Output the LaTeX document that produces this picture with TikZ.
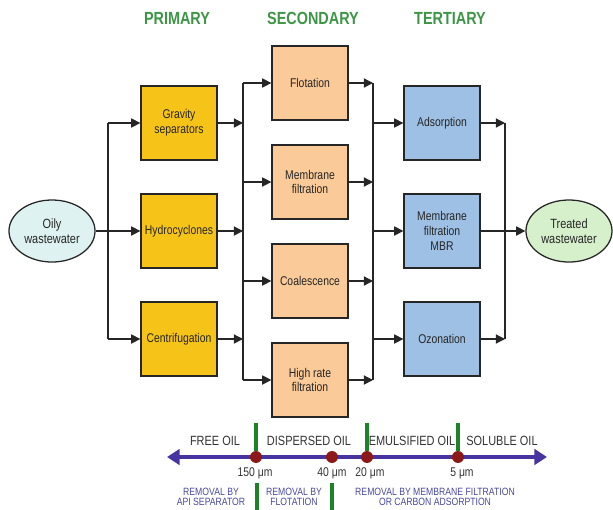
\documentclass[tikz,border=0pt]{standalone}
\usepackage{fontspec}
\setmainfont{Liberation Sans}[FakeStretch=0.82]
\usetikzlibrary{positioning, calc, arrows.meta, shapes.geometric}

\definecolor{titlegreen}{RGB}{60,150,70}
\definecolor{primfill}{RGB}{246,196,24}
\definecolor{secfill}{RGB}{250,202,152}
\definecolor{terfill}{RGB}{157,192,228}
\definecolor{infill}{RGB}{222,242,242}
\definecolor{outfill}{RGB}{214,240,204}
\definecolor{axisblue}{RGB}{72,52,160}
\definecolor{dotred}{RGB}{140,24,24}
\definecolor{tickgreen}{RGB}{30,130,40}
\definecolor{removal}{RGB}{72,72,160}

\tikzset{
  box/.style={draw=black!85, line width=0.9pt, minimum width=1.9cm, minimum height=1.85cm,
    align=center, inner sep=1pt, text=black!85, font=\fontsize{9}{10.5}\selectfont},
  blob/.style={ellipse, draw=black!85, line width=0.9pt, minimum width=2.15cm, minimum height=1.55cm,
    align=center, inner sep=0pt, text=black!85, font=\fontsize{9.5}{11}\selectfont},
  stage/.style={text=titlegreen, font=\bfseries\fontsize{12.5}{14}\selectfont},
  bus/.style={line width=0.9pt, draw=black!85},
  arr/.style={-{Triangle[length=6.5pt,width=6.5pt]}},
  dot/.style={circle, fill=dotred, minimum size=8.5pt, inner sep=0pt},
  scalelbl/.style={text=black!80, font=\fontsize{9.5}{11}\selectfont},
  sizelbl/.style={text=black!80, font=\fontsize{9}{10}\selectfont},
  removal/.style={text=removal, align=center, font=\fontsize{7.5}{7.6}\selectfont},
  gtick/.style={draw=tickgreen, line width=2.2pt},
}

\begin{document}
\begin{tikzpicture}[x=0.025cm, y=-0.025cm]
\useasboundingbox (0,0) rectangle (613,509);
\clip (0,0) rectangle (613,509);

% stage titles
\node[stage] (tprim) at (177,18) {PRIMARY};
\node[stage] (tsec) at (313,18) {SECONDARY};
\node[stage] (tter) at (450,18) {TERTIARY};

% in and out
\node[blob, fill=infill] (oily) at (52,231) {Oily\\wastewater};
\node[blob, fill=outfill] (treated) at (569,231) {Treated\\wastewater};

% primary
\node[box, fill=primfill] (grav) at (179,123) {Gravity\\separators};
\node[box, fill=primfill] (hydro) at (179,231) {Hydrocyclones};
\node[box, fill=primfill] (centri) at (179,339) {Centrifugation};

% secondary
\node[box, fill=secfill] (flot) at (310,83) {Flotation};
\node[box, fill=secfill] (memb) at (310,182) {Membrane\\filtration};
\node[box, fill=secfill] (coal) at (310,281) {Coalescence};
\node[box, fill=secfill] (hrate) at (310,380) {High rate\\filtration};

% tertiary
\node[box, fill=terfill] (adso) at (442,123) {Adsorption};
\node[box, fill=terfill] (mbr) at (442,231) {Membrane\\filtration\\MBR};
\node[box, fill=terfill] (ozon) at (442,339) {Ozonation};

% bus into primary
\coordinate (inT) at (108,123);
\coordinate (inB) at (108,339);
\draw[bus] (inT) -- (inB);
\draw[bus, arr] (oily) -- (hydro);
\draw[bus, arr] (inT) -- (grav);
\draw[bus, arr] (inB) -- (centri);

% primary -> secondary
\draw[bus] (243,83) -- (243,380);
\foreach \n/\y in {grav/123, hydro/231, centri/339}{
  \coordinate (a\n) at (243,\y);
  \draw[bus, arr] (\n) -- (a\n);
}
\foreach \n/\y in {flot/83, memb/182, coal/281, hrate/380}{
  \coordinate (b\n) at (243,\y);
  \draw[bus, arr] (b\n) -- (\n);
}

% secondary -> tertiary
\draw[bus] (373,83) -- (373,380);
\foreach \n/\y in {flot/83, memb/182, coal/281, hrate/380}{
  \coordinate (c\n) at (373,\y);
  \draw[bus, arr] (\n) -- (c\n);
}
\foreach \n/\y in {adso/123, mbr/231, ozon/339}{
  \coordinate (d\n) at (373,\y);
  \draw[bus, arr] (d\n) -- (\n);
}

% tertiary -> out
\coordinate (outT) at (505,123);
\coordinate (outB) at (505,339);
\draw[bus] (outT) -- (outB);
\draw[bus, arr] (adso) -- (outT);
\draw[bus, arr] (ozon) -- (outB);
\draw[bus, arr] (mbr) -- (treated);

% oil size scale
\coordinate (axL) at (167,457);
\coordinate (axR) at (547,457);
\draw[axisblue, line width=3pt, {Triangle[length=9pt,width=11pt]}-{Triangle[length=9pt,width=11pt]}] (axL) -- (axR);
\coordinate (t150) at (256,423);
\coordinate (t20) at (367,423);
\coordinate (t5) at (458,423);
\node[dot] (d150) at (256,457) {};
\node[dot] (d40) at (332,457) {};
\node[dot] (d20) at (367,457) {};
\node[dot] (d5) at (458,457) {};
\draw[gtick] (t150) -- (d150.north);
\draw[gtick] (t20) -- (d20.north);
\draw[gtick] (t5) -- (d5.north);

\node[scalelbl] (free) at (215,441) {FREE OIL};
\node[scalelbl] (disp) at (309,441) {DISPERSED OIL};
\node[scalelbl] (emul) at (412,441) {EMULSIFIED OIL};
\node[scalelbl] (solu) at (502,441) {SOLUBLE OIL};

\node[sizelbl] (s150) at (255,473) {150 μm};
\node[sizelbl] (s40) at (332,473) {40 μm};
\node[sizelbl] (s20) at (370,473) {20 μm};
\node[sizelbl] (s5) at (462,473) {5 μm};

% removal methods
\coordinate (r1) at (257,483);
\coordinate (r2) at (332,483);
\draw[gtick] (r1) -- ++(0,30);
\draw[gtick] (r2) -- ++(0,30);
\node[removal] (rapi) at (211,497) {REMOVAL BY\\API SEPARATOR};
\node[removal] (rflot) at (294,497) {REMOVAL BY\\FLOTATION};
\node[removal] (rmemb) at (435,497) {REMOVAL BY MEMBRANE FILTRATION\\OR CARBON ADSORPTION};
\end{tikzpicture}
\end{document}
